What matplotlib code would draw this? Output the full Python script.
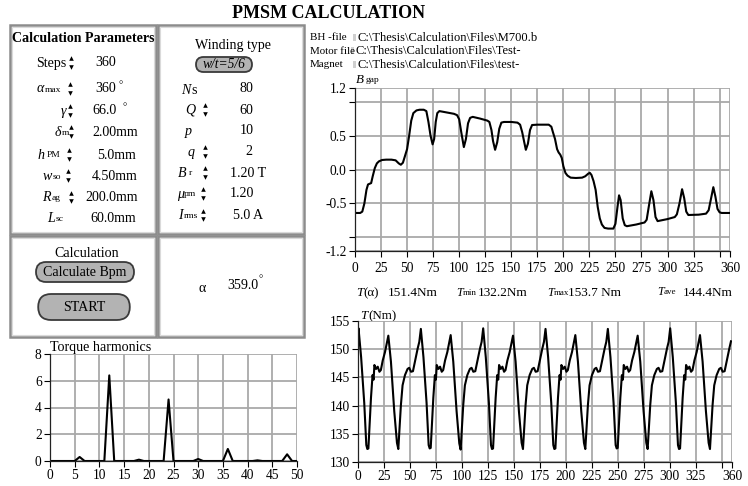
import matplotlib
matplotlib.use("Agg")
import matplotlib.pyplot as plt
from matplotlib.patches import FancyBboxPatch, Rectangle

plt.rcParams['font.family'] = ['Liberation Serif', 'DejaVu Serif']

# ---------------- data ----------------
# air-gap flux density versus rotor angle
b_deg = [0, 5, 7, 9, 11, 12.5, 14, 15.5, 17, 19, 21, 23, 26, 30, 35, 39, 42, 44, 46, 48,
         50, 52, 54, 56, 59, 62, 66, 68.5, 70.5, 72.5, 74.5, 76, 77.5, 79, 81, 88, 95, 98,
         100, 102, 104.5, 106.5, 108.5, 110.5, 113, 120, 127, 129, 131, 132.5, 134.5,
         136.5, 138.5, 140.5, 143, 150, 156, 158.5, 160.5, 162.5, 164, 166, 168, 170,
         175, 182, 186, 188.5, 190, 192, 194, 195.5, 197, 198.5, 200, 202, 204, 207, 212,
         218, 221, 224, 225.5, 227, 229, 231, 233, 235, 237, 239.5, 243, 248, 250, 252,
         253.5, 255, 257, 259, 261, 270, 278, 280, 282, 284.5, 286.5, 288.5, 290.5, 300,
         307, 309, 311.5, 314, 316, 318, 320, 330, 337, 339.5, 341.5, 344, 346, 348, 350,
         352, 360]
b_gap = [-0.64, -0.64, -0.62, -0.50, -0.30, -0.22, -0.21, -0.20, -0.10, 0.02, 0.09, 0.12,
         0.14, 0.145, 0.145, 0.135, 0.09, 0.07, 0.10, 0.20, 0.30, 0.50, 0.72, 0.83, 0.87,
         0.88, 0.88, 0.86, 0.70, 0.50, 0.37, 0.45, 0.70, 0.83, 0.86, 0.84, 0.82, 0.80,
         0.74, 0.55, 0.33, 0.45, 0.68, 0.76, 0.775, 0.75, 0.72, 0.70, 0.58, 0.42, 0.29,
         0.40, 0.60, 0.69, 0.70, 0.70, 0.69, 0.66, 0.55, 0.40, 0.29, 0.38, 0.58, 0.655,
         0.66, 0.66, 0.66, 0.63, 0.55, 0.45, 0.30, 0.25, 0.22, 0.17, 0.05, -0.05, -0.09,
         -0.12, -0.125, -0.12, -0.10, -0.06, -0.05, -0.08, -0.17, -0.30, -0.55, -0.72,
         -0.81, -0.86, -0.87, -0.87, -0.80, -0.55, -0.38, -0.45, -0.72, -0.82, -0.835,
         -0.81, -0.78, -0.74, -0.55, -0.32, -0.45, -0.70, -0.76, -0.73, -0.70, -0.66,
         -0.50, -0.29, -0.42, -0.62, -0.67, -0.665, -0.65, -0.60, -0.45, -0.26, -0.40,
         -0.58, -0.63, -0.64, -0.64]

# electromagnetic torque versus rotor angle
t_deg = [0, 0.5, 3, 6, 8, 9, 10, 12.5, 14, 15, 15.8, 17.4, 19, 20.6, 22, 23.8, 26, 29.2,
         31.7, 34.9, 37.5, 38.8, 41.3, 42.9, 45.2, 47.7, 49.3, 51, 52.9, 54.8, 57.4, 59,
         60.5, 63, 66, 68, 69, 70, 72.5, 74, 75, 75.8, 77.4, 79, 80.6, 82, 83.8, 86, 89.2,
         91.7, 94.9, 97.5, 98.8, 101.3, 102.9, 105.2, 107.7, 109.3, 111, 112.9, 114.8, 117.4, 119,
         120.5, 123, 126, 128, 129, 130, 132.5, 134, 135, 135.8, 137.4, 139, 140.6, 142, 143.8, 146, 149.2,
         151.7, 154.9, 157.5, 158.8, 161.3, 162.9, 165.2, 167.7, 169.3, 171, 172.9, 174.8, 177.4, 179,
         180.5, 183, 186, 188, 189, 190, 192.5, 194, 195, 195.8, 197.4, 199, 200.6, 202, 203.8, 206, 209.2,
         211.7, 214.9, 217.5, 218.8, 221.3, 222.9, 225.2, 227.7, 229.3, 231, 232.9, 234.8, 237.4, 239,
         240.5, 243, 246, 248, 249, 250, 252.5, 254, 255, 255.8, 257.4, 259, 260.6, 262, 263.8, 266, 269.2,
         271.7, 274.9, 277.5, 278.8, 281.3, 282.9, 285.2, 287.7, 289.3, 291, 292.9, 294.8, 297.4, 299,
         300.5, 303, 306, 308, 309, 310, 312.5, 314, 315, 315.8, 317.4, 319, 320.6, 322, 323.8, 326, 329.2,
         331.7, 334.9, 337.5, 338.8, 341.3, 342.9, 345.2, 347.7, 349.3, 351, 352.9, 354.8, 357.4, 359]
t_nm = [152.0, 153.7, 148.6, 140.5, 133.0, 132.3, 132.4, 141.4, 145.4, 144.6, 147.2, 146.5, 146.9, 146.0, 146.3, 148.0, 149.5, 152.4,
        147.8, 139.0, 133.4, 132.3, 140.1, 143.6, 145.4, 146.5, 146.7, 146.0, 146.1, 147.8, 150.1, 151.3,
        153.6, 148.6, 140.5, 133.0, 132.4, 132.5, 141.4, 145.4, 144.6, 147.2, 146.5, 146.9, 146.0, 146.3, 148.0, 149.5, 152.5,
        147.8, 139.0, 133.3, 132.2, 140.1, 143.6, 145.4, 146.5, 146.7, 146.0, 146.1, 147.8, 150.1, 151.3,
        153.7, 148.6, 140.5, 133.0, 132.3, 132.4, 141.4, 145.4, 144.6, 147.2, 146.5, 146.9, 146.0, 146.3, 148.0, 149.5, 152.4,
        147.8, 139.0, 133.4, 132.3, 140.1, 143.6, 145.4, 146.5, 146.7, 146.0, 146.1, 147.8, 150.1, 151.3,
        153.6, 148.6, 140.5, 133.0, 132.3, 132.4, 141.4, 145.4, 144.6, 147.2, 146.5, 146.9, 146.0, 146.3, 148.0, 149.5, 152.5,
        147.8, 139.0, 133.4, 132.3, 140.1, 143.6, 145.4, 146.5, 146.7, 146.0, 146.1, 147.8, 150.1, 151.3,
        153.6, 148.6, 140.5, 133.0, 132.4, 132.5, 141.4, 145.4, 144.6, 147.2, 146.5, 146.9, 146.0, 146.3, 148.0, 149.5, 152.4,
        147.8, 139.0, 133.4, 132.3, 140.1, 143.6, 145.4, 146.5, 146.7, 146.0, 146.1, 147.8, 150.1, 151.3,
        153.7, 148.6, 140.5, 133.0, 132.3, 132.4, 141.4, 145.4, 144.6, 147.2, 146.5, 146.9, 146.0, 146.3, 148.0, 149.5, 152.5,
        147.8, 139.0, 133.4, 132.3, 140.1, 143.6, 145.4, 146.5, 146.7, 146.0, 146.1, 147.8, 150.1, 151.4]

# torque harmonic amplitudes, orders 0..50
harm_order = list(range(0, 51))
harm_amp = [0, 0, 0, 0, 0, 0, 0.3, 0, 0, 0, 0, 0, 6.4, 0, 0, 0, 0, 0, 0.1, 0, 0, 0, 0, 0, 4.6,
            0, 0, 0, 0, 0, 0.15, 0, 0, 0, 0, 0, 0.9, 0, 0, 0, 0, 0, 0.05, 0, 0, 0, 0, 0, 0.5, 0, 0]

angle_ticks = [0, 25, 50, 75, 100, 125, 150, 175, 200, 225, 250, 275, 300, 325, 350, 360]
angle_labels = ['0', '25', '50', '75', '100', '125', '150', '175', '200', '225', '250',
                '275', '300', '325', '', '360']
b_ticks = [-1.2, -1.0, -0.5, 0.0, 0.5, 1.0, 1.2]
b_labels = ['-1.2', '', '-0.5', '0.0', '0.5', '', '1.2']
t_ticks = [130, 135, 140, 145, 150, 155]
h_xticks = [0, 5, 10, 15, 20, 25, 30, 35, 40, 45, 50]
h_yticks = [0, 2, 4, 6, 8]

# ---------------- layout helpers (pixel coordinates) ----------------
W, H = 748, 486
fig = plt.figure(figsize=(W / 100, H / 100), dpi=100)
ov = fig.add_axes([0, 0, 1, 1])
ov.set_xlim(0, W)
ov.set_ylim(H, 0)
ov.axis('off')

PT = 0.72  # points per pixel at 100 dpi
GRID = '#a9a9a9'


def px_axes(l, t, r, b):
    return fig.add_axes([l / W, 1 - b / H, (r - l) / W, (b - t) / H])


def txt(x, y, s, px=14, ha='left', style='normal', weight='normal', **kw):
    ov.text(x, y, s, fontsize=px * PT, ha=ha, va='center', style=style,
            weight=weight, **kw)


def spinner(x, y):
    ov.plot([x], [y - 4.5], marker='^', ms=3.3, color='black', mew=0)
    ov.plot([x], [y + 4.0], marker='v', ms=3.3, color='black', mew=0)


def panel(x0, y0, x1, y1):
    ov.add_patch(Rectangle((x0, y0), x1 - x0, y1 - y0, fill=False,
                           ec='#8c8c8c', lw=1.8))
    ov.add_patch(Rectangle((x0 + 2, y0 + 2), x1 - x0 - 4, y1 - y0 - 4, fill=False,
                           ec='#dadada', lw=0.8))


def button(x0, y0, x1, y1, label, px=14, style='normal'):
    r = (y1 - y0) / 2
    ov.add_patch(FancyBboxPatch((x0 + r * 0.4, y0), x1 - x0 - r * 0.8, y1 - y0,
                                boxstyle=f"round,pad=0,rounding_size={r}",
                                fc='#b3b3b3', ec='#3a3a3a', lw=1.3,
                                mutation_aspect=1))
    txt((x0 + x1) / 2, (y0 + y1) / 2, label, px=px, ha='center', style=style)


def style_axes(ax):
    for s in ('top', 'right'):
        ax.spines[s].set_visible(False)
    for s in ('left', 'bottom'):
        ax.spines[s].set_color('#222222')
        ax.spines[s].set_linewidth(0.9)
    ax.grid(True, color=GRID, lw=1.3)
    ax.set_axisbelow(True)
    ax.tick_params(direction='out', length=4, width=0.8, labelsize=13.5 * PT,
                   pad=2, colors='black')


# ---------------- title and panels ----------------
txt(329, 14, 'PMSM CALCULATION', px=18, ha='center', weight='bold')

panel(10, 25, 156.5, 233.5)
panel(158.5, 25, 304, 233.5)
panel(10, 236, 156.5, 337)
panel(158.5, 236, 304, 337)

# calculation parameters
txt(83.5, 39, 'Calculation Parameters', px=14, ha='center', weight='bold')
txt(66, 63, 'Steps', ha='right'); spinner(71, 63); txt(95, 62, '360')
txt(37, 89, 'α', style='italic'); txt(45, 90, 'max', px=9.5); spinner(70, 89)
txt(95, 88, '360'); txt(119, 86, '°', px=11)
txt(66, 111, 'γ', style='italic', ha='right'); spinner(70, 111)
txt(92, 110, '66.0'); txt(123, 108, '°', px=11)
txt(55, 132, 'δ', style='italic'); txt(62, 133, 'm', px=9.5); spinner(71, 132)
txt(92, 132, '2.00mm')
txt(38, 155, 'h', style='italic'); txt(47, 155, 'PM', px=9.5); spinner(69, 155)
txt(97, 155, '5.0mm')
txt(43, 176, 'w', style='italic'); txt(53, 177, 'so', px=9.5); spinner(68, 176)
txt(92, 176, '4.50mm')
txt(42, 197, 'R', style='italic'); txt(52, 198, 'ag', px=9.5); spinner(71, 197)
txt(85, 197, '200.0mm')
txt(47, 218, 'L', style='italic'); txt(56, 219, 'sc', px=9.5)
txt(90, 218, '60.0mm')

# winding data
txt(233.5, 45, 'Winding type', ha='center')
button(193, 57, 255, 72, 'w/t=5/6', px=13.5, style='italic')
txt(181, 90, 'N', style='italic'); txt(191, 90, 's')
txt(239.5, 89, '80')
txt(185, 110, 'Q', style='italic'); spinner(205, 110); txt(239.5, 110, '60')
txt(185, 131, 'p', style='italic'); txt(239.5, 130, '10')
txt(188, 152, 'q', style='italic'); spinner(205, 152); txt(245, 151, '2')
txt(178, 173, 'B', style='italic'); txt(189, 173, 'r', px=9.5); spinner(205, 173)
txt(230, 173, '1.20 T')
txt(177, 194, 'μ', style='italic'); txt(184, 194, 'pm', px=9.5); spinner(203, 194)
txt(230, 193, '1.20')
txt(178, 215, 'I', style='italic'); txt(184, 216, 'rms', px=9.5); spinner(203, 215)
txt(233, 215, '5.0 A')

# calculation buttons and angle readout
txt(87, 253, 'Calculation', ha='center')
button(32, 262, 138, 282, 'Calculate Bpm')
button(33, 294, 135, 320, 'START')
txt(202, 288, 'α', ha='center')
txt(227, 285, '359.0')
txt(259, 280, '°', px=11)

# file paths
for y, lab, path, px0 in [(37.7, 'BH -file', r'C:\Thesis\Calculation\Files\M700.b', 358),
                          (51, 'Motor file', r'C:\Thesis\Calculation\Files\Test-', 356),
                          (64.7, 'Magnet', r'C:\Thesis\Calculation\Files\test-', 358)]:
    txt(310, y, lab, px=11)
    txt(px0, y, path, px=12.5)
    ov.add_patch(Rectangle((px0 - 4.5, y - 4), 2.2, 7, fc='#cfcfcf', ec='none'))

# ---------------- B gap plot ----------------
ax1 = px_axes(355, 88, 730, 251)
ax1.plot(b_deg, b_gap, color='black', lw=1.5)
ax1.set_xlim(0, 360)
ax1.set_ylim(-1.2, 1.2)
ax1.set_xticks(angle_ticks)
ax1.set_xticklabels(angle_labels)
ax1.set_yticks(b_ticks)
ax1.set_yticklabels(b_labels)
style_axes(ax1)
ax1.tick_params(axis='x', pad=4)
txt(356, 80, 'B', px=13, style='italic')
txt(366, 80, 'gap', px=9.5)

# torque summary line
txt(356, 293, 'T', px=13, style='italic'); txt(363.5, 293, '(α)', px=13)
txt(388, 293, '151.4Nm', px=13.3)
txt(456, 293, 'T', px=12, style='italic'); txt(463, 293, 'min', px=9)
txt(478, 293, '132.2Nm', px=13.3)
txt(547, 293, 'T', px=12, style='italic'); txt(554, 293, 'max', px=9)
txt(568, 293, '153.7 Nm', px=13.3)
txt(657, 292, 'T', px=12, style='italic'); txt(664, 292, 'ave', px=9)
txt(683, 293, '144.4Nm', px=13.3)

# ---------------- torque plot ----------------
ax2 = px_axes(358, 321, 732, 462)
ax2.plot(t_deg, t_nm, color='black', lw=1.5)
ax2.set_xlim(0, 360)
ax2.set_ylim(130, 155)
ax2.set_xticks(angle_ticks)
ax2.set_xticklabels(angle_labels)
ax2.set_yticks(t_ticks)
style_axes(ax2)
txt(360, 316, 'T', px=13, style='italic'); txt(368, 316, '(Nm)', px=13)

# ---------------- torque harmonics plot ----------------
ax3 = px_axes(50, 354, 297, 461)
ax3.plot(harm_order, harm_amp, color='black', lw=1.5)
ax3.set_xlim(0, 50)
ax3.set_ylim(0, 8)
ax3.set_xticks(h_xticks)
ax3.set_yticks(h_yticks)
style_axes(ax3)
txt(50, 347, 'Torque harmonics', px=14)

fig.savefig('out.png', dpi=100)
